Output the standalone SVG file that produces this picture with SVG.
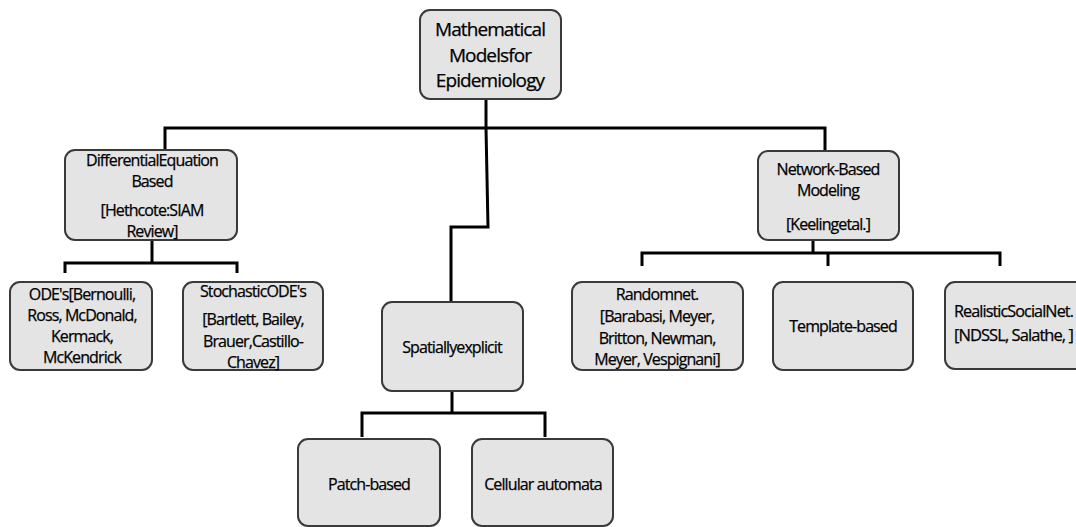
<svg xmlns="http://www.w3.org/2000/svg" width="1076" height="527" viewBox="0 0 1076 527">
<style>
.box{fill:#e4e4e4;stroke:#3a3a3a;stroke-width:2}
.t{font-family:"Open Sans","Liberation Sans",Arial,sans-serif;font-size:16px;letter-spacing:-0.9px;fill:#000;stroke:#000;stroke-width:0.25;text-anchor:middle}
.tt{font-size:19px;letter-spacing:-0.9px}
.c{fill:none;stroke:#000;stroke-width:3;stroke-linejoin:miter}
</style>
<rect width="1076" height="527" fill="#fff"/>
<g id="connectors">
<path class="c" d="M486,99 L486,128"/>
<path class="c" d="M165,150 L165,128 L825,128 L825,151"/>
<path class="c" d="M486,128 L488,227 L451,227 L451,302"/>
<path class="c" d="M152,240 L152,263"/>
<path class="c" d="M65,273 L65,263 L237,263 L237,273"/>
<path class="c" d="M452,391 L452,413"/>
<path class="c" d="M362,437 L362,413 L545,413 L545,437"/>
<path class="c" d="M813,240 L813,253"/>
<path class="c" d="M642,266 L642,253 L1000,253 L1000,266"/>
<path class="c" d="M828,253 L828,266"/>
</g>
<g id="n-root">
<rect class="box" x="420" y="10" width="141" height="89" rx="10"/>
<text class="t tt" x="490" y="36">Mathematical</text>
<text class="t tt" x="490" y="62">Modelsfor</text>
<text class="t tt" x="490" y="87">Epidemiology</text>
</g>
<g id="n-diff">
<rect class="box" x="65" y="150" width="172" height="90" rx="10"/>
<text class="t" x="152" y="166">DifferentialEquation</text>
<text class="t" x="152" y="187">Based</text>
<text class="t" x="152" y="216">[Hethcote:SIAM</text>
<text class="t" x="152" y="237">Review]</text>
</g>
<g id="n-ode">
<rect class="box" x="10" y="282" width="142" height="88" rx="10"/>
<text class="t" x="82" y="300">ODE's[Bernoulli,</text>
<text class="t" x="82" y="321">Ross, McDonald,</text>
<text class="t" x="82" y="342">Kermack,</text>
<text class="t" x="82" y="363">McKendrick</text>
</g>
<g id="n-sode">
<rect class="box" x="183" y="282" width="140" height="88" rx="10"/>
<text class="t" x="253" y="297">StochasticODE's</text>
<text class="t" x="253" y="325">[Bartlett, Bailey,</text>
<text class="t" x="253" y="347">Brauer,Castillo-</text>
<text class="t" x="253" y="368">Chavez]</text>
</g>
<g id="n-spatial">
<rect class="box" x="382" y="302" width="141" height="89" rx="10"/>
<text class="t" x="452" y="353">Spatiallyexplicit</text>
</g>
<g id="n-patch">
<rect class="box" x="298" y="439" width="142" height="87" rx="10"/>
<text class="t" x="369" y="490">Patch-based</text>
</g>
<g id="n-cell">
<rect class="box" x="472" y="439" width="141" height="87" rx="10"/>
<text class="t" x="543" y="490">Cellular automata</text>
</g>
<g id="n-net">
<rect class="box" x="758" y="151" width="141" height="89" rx="10"/>
<text class="t" x="828" y="175">Network-Based</text>
<text class="t" x="828" y="196">Modeling</text>
<text class="t" x="828" y="230">[Keelingetal.]</text>
</g>
<g id="n-random">
<rect class="box" x="572" y="282" width="171" height="88" rx="10"/>
<text class="t" x="657" y="300">Randomnet.</text>
<text class="t" x="657" y="322">[Barabasi, Meyer,</text>
<text class="t" x="657" y="344">Britton, Newman,</text>
<text class="t" x="657" y="365">Meyer, Vespignani]</text>
</g>
<g id="n-template">
<rect class="box" x="773" y="282" width="140" height="88" rx="10"/>
<text class="t" x="843" y="332">Template-based</text>
</g>
<g id="n-real">
<rect class="box" x="945" y="282" width="145" height="87" rx="10"/>
<text class="t" x="954" y="317" style="text-anchor:start" textLength="119" lengthAdjust="spacingAndGlyphs">RealisticSocialNet.</text>
<text class="t" x="954" y="341" style="text-anchor:start" textLength="119" lengthAdjust="spacingAndGlyphs">[NDSSL, Salathe, ]</text>
</g>
</svg>
